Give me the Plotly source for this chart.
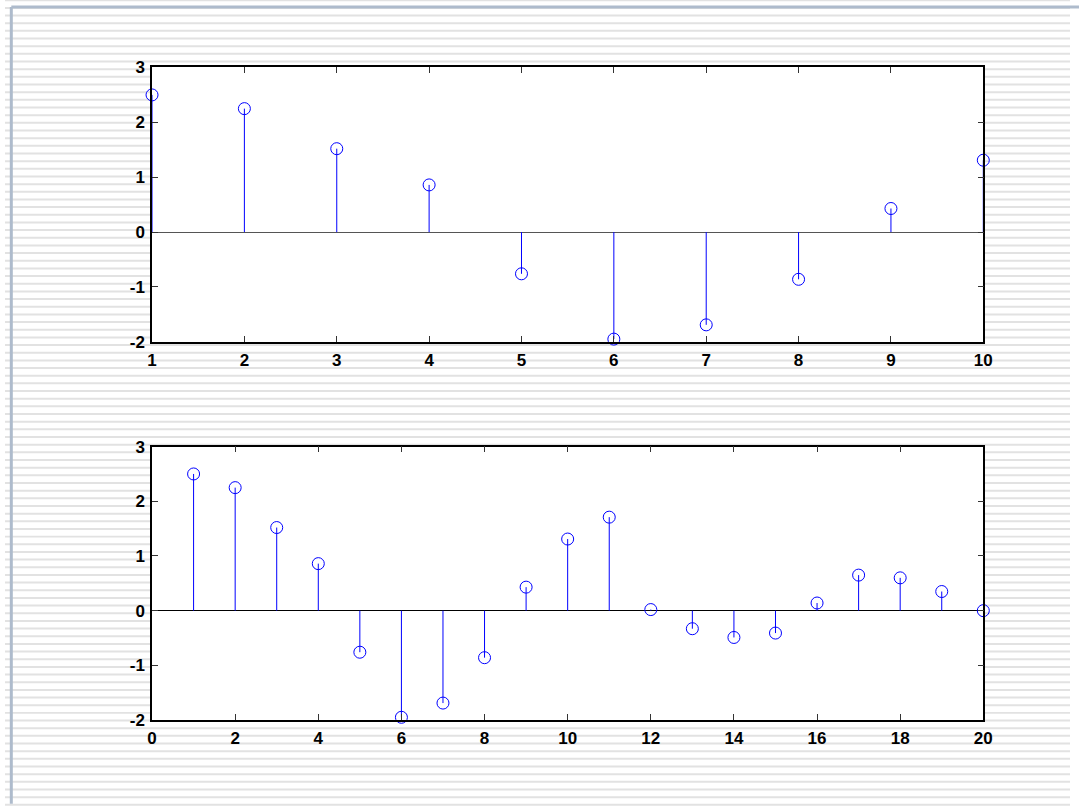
import plotly.graph_objects as go

# ---- data ----
n_top = [1, 2, 3, 4, 5, 6, 7, 8, 9, 10]
y_top = [2.5, 2.25, 1.52, 0.86, -0.76, -1.95, -1.69, -0.86, 0.43, 1.31]

n_bot = list(range(1, 21))
y_bot = [2.5, 2.25, 1.52, 0.86, -0.76, -1.95, -1.69, -0.86, 0.43, 1.31,
         1.71, 0.02, -0.33, -0.49, -0.41, 0.14, 0.65, 0.6, 0.35, 0.0]

top_xticks = [1, 2, 3, 4, 5, 6, 7, 8, 9, 10]
bot_xticks = [0, 2, 4, 6, 8, 10, 12, 14, 16, 18, 20]
yticks = [-2, -1, 0, 1, 2, 3]
ytick_text = ["-2", "-1", "0", "1", "2", "3"]

W, H = 1079, 806
BLUE = "#0000ff"

# map target-picture pixels to page pixels (compensates the capture's framing)
SX, OX = 0.9855, 4.2
SY, OY = 0.9786, 7.4

def px(x):
    return (x - OX) / SX / W

def py(y):
    return 1 - (y - OY) / SY / H

def stems(xs, ys):
    sx, sy = [], []
    for x, y in zip(xs, ys):
        sx += [x, x, None]
        sy += [0, y, None]
    return sx, sy

fig = go.Figure()
for xs, ys, ax in [(n_top, y_top, ("x", "y")), (n_bot, y_bot, ("x2", "y2"))]:
    sx, sy = stems(xs, ys)
    fig.add_trace(go.Scatter(x=sx, y=sy, mode="lines", xaxis=ax[0], yaxis=ax[1],
                             line=dict(color=BLUE, width=1), hoverinfo="skip",
                             showlegend=False, cliponaxis=False))
    fig.add_trace(go.Scatter(x=xs, y=ys, mode="markers", xaxis=ax[0], yaxis=ax[1],
                             marker=dict(symbol="circle-open", size=12,
                                         color=BLUE, line=dict(color=BLUE, width=1)),
                             showlegend=False, cliponaxis=False))

# decorative background: stripes + slide frame
shapes = []
y = -1.4
while y < H + 10:
    shapes.append(dict(type="rect", xref="paper", yref="paper", layer="below",
                       x0=0, x1=1, y0=py(y + 1), y1=py(y - 1),
                       fillcolor="#e2e2e2", line=dict(width=0)))
    y += 7.68
plot_boxes = [(151, 981, 66, 341), (151, 981, 446, 720)]
for (l, r, t, b) in plot_boxes:
    shapes.append(dict(type="rect", xref="paper", yref="paper", layer="below",
                       x0=px(l), x1=px(r), y0=py(b), y1=py(t),
                       fillcolor="white", line=dict(width=0)))
shapes.append(dict(type="line", xref="paper", yref="paper", layer="below",
                   x0=px(10.5), x1=1.01, y0=py(5.5), y1=py(5.5),
                   line=dict(color="#aebbcc", width=3)))
shapes.append(dict(type="line", xref="paper", yref="paper", layer="below",
                   x0=px(10.5), x1=px(10.5), y0=-0.01, y1=py(5.5),
                   line=dict(color="#aebbcc", width=3)))

axis_common = dict(showline=True, linecolor="black", linewidth=1.5, mirror="ticks",
                   ticks="inside", ticklen=6, tickcolor="#333333", tickwidth=1,
                   showgrid=False, ticklabelstandoff=2,
                   tickfont=dict(family="Liberation Sans", size=17, color="black",
                                 weight="bold"))

fig.update_layout(
    width=W, height=H,
    margin=dict(l=0, r=0, t=0, b=0),
    paper_bgcolor="white",
    plot_bgcolor="rgba(0,0,0,0)",
    shapes=shapes,
    xaxis=dict(domain=[px(151), px(981)], range=[1, 10], tickvals=top_xticks,
               zeroline=False, anchor="y", **axis_common),
    yaxis=dict(domain=[py(341), py(66)], range=[-2, 3], tickvals=yticks,
               ticktext=ytick_text,
               zeroline=True, zerolinecolor="#555555", zerolinewidth=1,
               anchor="x", **axis_common),
    xaxis2=dict(domain=[px(151), px(981)], range=[0, 20], tickvals=bot_xticks,
                zeroline=False, anchor="y2", **axis_common),
    yaxis2=dict(domain=[py(720), py(446)], range=[-2, 3], tickvals=yticks,
                ticktext=ytick_text,
                zeroline=True, zerolinecolor="#000000", zerolinewidth=1,
                anchor="x2", **axis_common),
)

fig.write_html(
    "out.html",
    config={"displayModeBar": False},
    post_script=(
        "document.body.style.margin='0';"
        "document.body.style.overflow='hidden';"
    ),
)
